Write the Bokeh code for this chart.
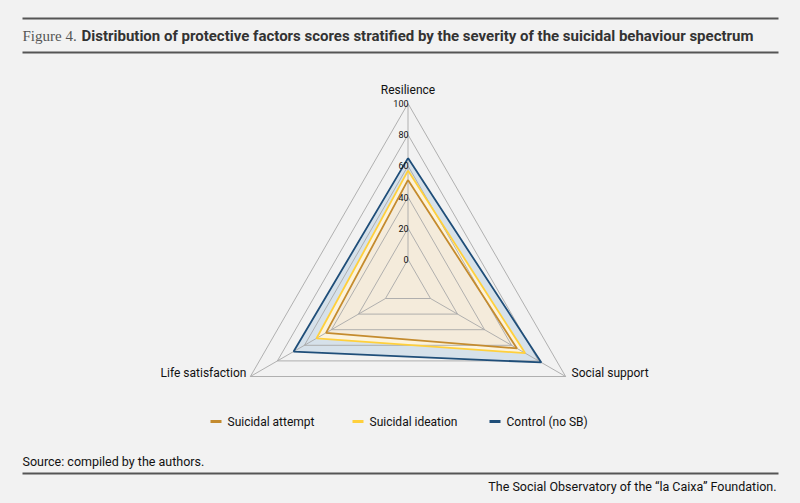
import math
from bokeh.plotting import figure
from bokeh.models import Range1d
from bokeh.core.properties import value
from bokeh.embed import file_html
from bokeh.resources import INLINE

# ---------------- data ----------------
categories = ["Resilience", "Social support", "Life satisfaction"]
series_names = ["Suicidal attempt", "Suicidal ideation", "Control (no SB)"]
attempt = [51, 64, 44]
ideation = [57, 70, 51]
control = [65, 82, 68]
tick_values = [0, 20, 40, 60, 80, 100]
title_prefix = "Figure 4."
title_main = "Distribution of protective factors scores stratified by the severity of the suicidal behaviour spectrum"
source_text = "Source: compiled by the authors."
credit_text = "The Social Observatory of the \u201cla Caixa\u201d Foundation."

# ---------------- styling ----------------
BG = "#f2f2f2"
W, H = 800, 503
line_colors = ["#c48b2e", "#ffd03c", "#1f4e79"]
fill_colors = ["#f4ebdb", "#fcf3dc", "#d6e1ea"]
GRID = "#a9a9a9"
SANS = "Roboto"

cx, cy = 407.5, 285.0
R, r0 = 182.0, 26.0
angles = [90.0, -30.0, 210.0]
vmin, vmax = 0.0, 100.0


def rad(v):
    return r0 + (R - r0) * (v - vmin) / (vmax - vmin)


def pt(v, ang):
    r = rad(v)
    a = math.radians(ang)
    return cx + r * math.cos(a), cy - r * math.sin(a)


def poly(vals):
    xs, ys = [], []
    for v, a in zip(vals, angles):
        x, y = pt(v, a)
        xs.append(x)
        ys.append(y)
    return xs, ys


p = figure(width=W, height=H, x_range=Range1d(0, W), y_range=Range1d(H, 0),
           output_backend="svg", toolbar_location=None, min_border=0)
p.axis.visible = False
p.grid.visible = False
p.outline_line_color = None
p.background_fill_color = BG
p.border_fill_color = BG

all_series = [attempt, ideation, control]

# fills (back to front: control, ideation, attempt)
for i in [2, 1, 0]:
    xs, ys = poly(all_series[i])
    p.patch(xs, ys, fill_color=fill_colors[i], line_color=None)

# grid rings
for t in tick_values:
    xs, ys = poly([t] * 3)
    p.patch(xs + [xs[0]], ys + [ys[0]], fill_color=None, line_color=GRID,
            line_width=1, line_alpha=0.9)
# spokes
for a in angles:
    x0, y0 = pt(vmin, a)
    x1, y1 = pt(vmax, a)
    p.segment(x0, y0, x1, y1, line_color=GRID, line_width=1, line_alpha=0.9)

# series outlines
for i in [2, 1, 0]:
    xs, ys = poly(all_series[i])
    p.line(xs + [xs[0]], ys + [ys[0]], line_color=line_colors[i], line_width=1.8)

# tick labels along Resilience axis
tx, ty = [], []
for t in tick_values:
    x, y = pt(t, 90.0)
    tx.append(x + 0.5)
    ty.append(y)
p.text(tx, ty, text=[str(t) for t in tick_values], text_align="right",
       text_baseline="middle", text_font=value(SANS), text_font_size="9px",
       text_color="#111111")

# category labels
lx, ly = pt(vmax, 90.0)
p.text([lx], [ly - 14], text=[categories[0]], text_align="center",
       text_baseline="middle", text_font=value(SANS), text_font_size="12px",
       text_color="#111111")
sx, sy = pt(vmax, -30.0)
p.text([sx + 6], [sy - 4], text=[categories[1]], text_align="left",
       text_baseline="middle", text_font=value(SANS), text_font_size="12px",
       text_color="#111111")
fx, fy = pt(vmax, 210.0)
p.text([fx - 4], [fy - 4], text=[categories[2]], text_align="right",
       text_baseline="middle", text_font=value(SANS), text_font_size="12px",
       text_color="#111111")

# legend
leg_x = [210, 352, 489]
leg_y = 421
for i, name in enumerate(series_names):
    p.segment(leg_x[i], leg_y, leg_x[i] + 11, leg_y, line_color=line_colors[i],
              line_width=3)
    p.text([leg_x[i] + 17], [leg_y], text=[name], text_align="left",
           text_baseline="middle", text_font=value(SANS), text_font_size="12px",
           text_color="#111111")

# title block
p.segment([22, 22], [18, 52], [778, 778], [18, 52], line_color="#555555", line_width=2)
p.text([22], [35], text=[title_prefix], text_align="left", text_baseline="middle",
       text_font=value("Liberation Serif"), text_font_size="15px", text_color="#555555")
p.text([81], [35], text=[title_main], text_align="left", text_baseline="middle",
       text_font=value(SANS), text_font_size="15px", text_font_style="bold",
       text_color="#333333")

# footer
p.text([22], [461], text=[source_text], text_align="left", text_baseline="middle",
       text_font=value(SANS), text_font_size="12.5px", text_color="#111111")
p.segment([22], [473], [778], [473], line_color="#555555", line_width=2)
p.text([776], [486], text=[credit_text], text_align="right", text_baseline="middle",
       text_font=value(SANS), text_font_size="12.5px", text_color="#111111")

html = file_html(p, INLINE)
html = html.replace("<head>", "<head><style>body{background:%s;}</style>" % BG, 1)
open("out.html", "w").write(html)
